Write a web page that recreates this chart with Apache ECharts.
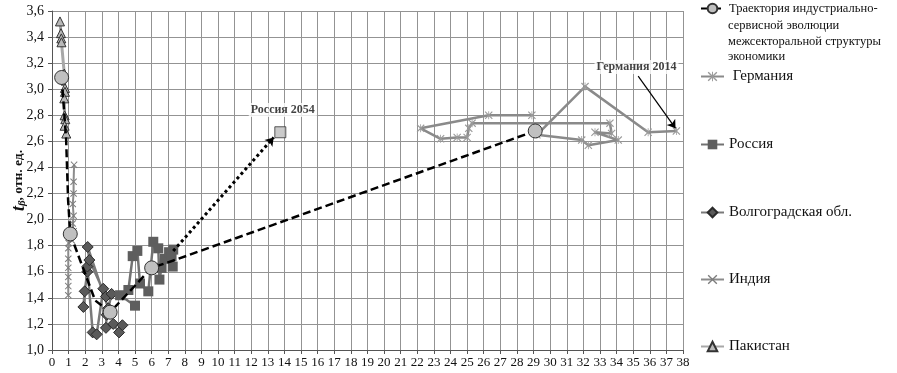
<!DOCTYPE html>
<html>
<head>
<meta charset="utf-8">
<script src="https://cdn.jsdelivr.net/npm/echarts@6/dist/echarts.min.js"></script>
<style>
  html, body { margin: 0; padding: 0; background: #fff; }
  #main { width: 897px; height: 373px; }
</style>
</head>
<body>
<div id="main"></div>
<script>
// --- data ---
const trajectoryName = 'Траектория индустриально-сервисной эволюции межсекторальной структуры экономики'
const trajectory = [[0.58, 3.09], [0.85, 2.62], [0.97, 2.15], [1.1, 1.89], [2.6, 1.38], [3.5, 1.29], [6.0, 1.63], [7.4, 1.69], [29.1, 2.68]]
const trajectoryMarked = [0, 3, 5, 6, 8]   // points drawn with a circle

const germany = [[28.9, 2.80], [26.3, 2.80], [22.2, 2.70], [23.4, 2.62], [24.4, 2.63], [25.0, 2.63], [25.1, 2.70], [25.3, 2.74],
  [33.6, 2.74], [33.7, 2.66], [32.7, 2.67], [34.1, 2.61], [32.3, 2.57], [31.9, 2.61], [29.2, 2.65], [32.1, 3.02], [35.9, 2.67], [37.6, 2.68]]
const russia = [[5.0, 1.34], [4.1, 1.42], [4.6, 1.46], [4.86, 1.72], [5.14, 1.76], [5.3, 1.51], [5.8, 1.45], [6.1, 1.83], [6.4, 1.78],
  [6.47, 1.54], [6.6, 1.63], [6.8, 1.70], [7.27, 1.64], [7.3, 1.77], [7.05, 1.75], [7.2, 1.72]]
const volgograd = [[1.89, 1.33], [1.97, 1.45], [2.13, 1.60], [2.13, 1.64], [2.45, 1.135], [2.69, 1.12], [3.09, 1.47], [3.25, 1.41],
  [2.25, 1.69], [2.15, 1.79], [3.39, 1.32], [3.59, 1.43], [3.29, 1.27], [3.25, 1.17], [3.69, 1.20], [4.04, 1.135], [4.24, 1.19]]
const india = [[0.98, 1.42], [0.98, 1.49], [0.98, 1.56], [0.98, 1.63], [0.98, 1.70], [0.98, 1.78], [1.0, 1.82], [1.2, 1.84],
  [1.3, 1.91], [1.25, 1.97], [1.3, 2.03], [1.25, 2.12], [1.3, 2.2], [1.3, 2.29], [1.33, 2.42]]
const pakistan = [[0.48, 3.52], [0.54, 3.43], [0.56, 3.39], [0.57, 3.36], [0.74, 3.12], [0.78, 3.01], [0.78, 2.98], [0.74, 2.93],
  [0.76, 2.80], [0.8, 2.77], [0.76, 2.72], [0.86, 2.66]]

const russiaForecast = [[7.3, 1.76], [13.35, 2.63]]
const russia2054 = [13.75, 2.67]
const germanyArrow = [[35.3, 3.1], [37.55, 2.7]]
const notes = [{ name: 'Россия 2054', value: [13.9, 2.84] }, { name: 'Германия 2014', value: [35.2, 3.17] }]

const yMin = 1.0, yMax = 3.6, yStep = 0.2
const xMin = 0, xMax = 38, xStep = 1

// --- drawing ---
const serif = '"Liberation Serif", "DejaVu Serif", serif'
const crossPath = 'path://M2,0L10,8L18,0L20,2L12,10L20,18L18,20L10,12L2,20L0,18L8,10L0,2Z'
const starPath = 'path://M2,0L10,8L18,0L20,2L12,10L20,18L18,20L10,12L2,20L0,18L8,10L0,2ZM9,0L11,0L11,20L9,20Z'

const chart = echarts.init(document.getElementById('main'))

const legendBox = (name, top, fontSize, formatter) => ({
  data: [name],
  left: 700,
  top: top,
  padding: 0,
  itemWidth: 23,
  itemHeight: 12,
  formatter: formatter,
  textStyle: { fontFamily: serif, fontSize: fontSize, color: '#111' }
})

const option = {
  animation: false,
  backgroundColor: '#fff',
  grid: { left: 52, right: 214, top: 11, bottom: 23, outerBoundsMode: 'none', containLabel: false },
  legend: [
    legendBox(trajectoryName, 2, 12.5, () => 'Траектория индустриально-'),
    legendBox('Германия', 69, 15, n => ' ' + n),
    legendBox('Россия', 137, 15),
    legendBox('Волгоградская обл.', 205, 15),
    legendBox('Индия', 272, 15),
    legendBox('Пакистан', 339, 15)
  ],
  graphic: [{
    type: 'text',
    left: 728,
    top: 18,
    style: {
      text: 'сервисной эволюции\nмежсекторальной структуры\nэкономики',
      font: '12.5px ' + serif,
      fill: '#111',
      lineHeight: 15.5
    }
  }],
  xAxis: {
    type: 'value',
    min: xMin, max: xMax, interval: xStep,
    axisLine: { lineStyle: { color: '#555' } },
    axisTick: { show: true, length: 4, lineStyle: { color: '#555' } },
    axisLabel: { fontFamily: serif, fontSize: 13, color: '#111', margin: 6 },
    splitLine: { lineStyle: { color: '#939393', width: 1 } }
  },
  yAxis: {
    type: 'value',
    min: yMin, max: yMax, interval: yStep,
    name: '{t|t}{b|β}{n|, отн. ед.}',
    nameLocation: 'middle',
    nameGap: 24,
    nameMoveOverlap: false,
    nameTextStyle: {
      rich: {
        t: { fontFamily: serif, fontSize: 18, fontStyle: 'italic', fontWeight: 'bold', color: '#111' },
        b: { fontFamily: serif, fontSize: 11, fontStyle: 'italic', fontWeight: 'bold', color: '#111', verticalAlign: 'bottom', padding: [6, 0, 0, 0] },
        n: { fontFamily: serif, fontSize: 13.5, fontWeight: 'bold', color: '#111' }
      }
    },
    axisLine: { show: true, lineStyle: { color: '#555' } },
    axisTick: { show: true, length: 4, lineStyle: { color: '#555' } },
    axisLabel: { fontFamily: serif, fontSize: 14, color: '#111', margin: 8,
      formatter: v => v.toFixed(1).replace('.', ',') },
    splitLine: { lineStyle: { color: '#939393', width: 1 } }
  },
  series: [
    {
      name: 'Пакистан', type: 'line', data: pakistan,
      symbol: 'triangle', symbolSize: 9,
      lineStyle: { color: '#a8a8a8', width: 3 },
      itemStyle: { color: '#b8b8b8', borderColor: '#333', borderWidth: 1 }
    },
    {
      name: 'Индия', type: 'line', data: india,
      symbol: crossPath, symbolSize: 7,
      lineStyle: { color: '#8c8c8c', width: 2 },
      itemStyle: { color: '#7c7c7c' }
    },
    {
      name: 'Волгоградская обл.', type: 'line', data: volgograd,
      symbol: 'diamond', symbolSize: 11,
      lineStyle: { color: '#7a7a7a', width: 2.5 },
      itemStyle: { color: '#5a5a5a', borderColor: '#2a2a2a', borderWidth: 1 }
    },
    {
      name: 'Россия', type: 'line', data: russia,
      symbol: 'rect', symbolSize: 10,
      lineStyle: { color: '#727272', width: 2.5 },
      itemStyle: { color: '#5e5e5e' }
    },
    {
      name: 'Германия', type: 'line', data: germany,
      symbol: starPath, symbolSize: 8,
      lineStyle: { color: '#8a8a8a', width: 2.5 },
      itemStyle: { color: '#9a9a9a' }
    },
    {
      type: 'lines', coordinateSystem: 'cartesian2d', z: 4,
      symbol: ['none', 'arrow'], symbolSize: 8,
      lineStyle: { color: '#000', width: 3, type: 'dotted', opacity: 1 },
      data: [{ coords: russiaForecast }]
    },
    {
      type: 'lines', coordinateSystem: 'cartesian2d', z: 4,
      symbol: ['none', 'arrow'], symbolSize: 8,
      lineStyle: { color: '#000', width: 1.2, opacity: 1 },
      data: [{ coords: germanyArrow }]
    },
    {
      type: 'scatter', data: [russia2054], z: 5,
      symbol: 'rect', symbolSize: 11,
      itemStyle: { color: '#bdbdbd', borderColor: '#333', borderWidth: 1 }
    },
    {
      name: trajectoryName, type: 'line', z: 6,
      data: trajectory.map((p, i) => ({ value: p, symbol: trajectoryMarked.includes(i) ? 'circle' : 'none' })),
      symbol: 'circle', symbolSize: 14, showAllSymbol: true,
      lineStyle: { color: '#000', width: 2.5, type: [8, 4] },
      itemStyle: { color: '#c0c0c0', borderColor: '#333', borderWidth: 1 }
    },
    {
      type: 'scatter', data: notes, z: 7,
      symbolSize: 1, itemStyle: { color: 'rgba(0,0,0,0)' },
      label: {
        show: true, position: 'inside', formatter: '{b}',
        fontFamily: serif, fontSize: 12, fontWeight: 'bold', color: '#111',
        backgroundColor: '#fff', padding: [1, 2]
      }
    }
  ]
}

chart.setOption(option)
</script>
</body>
</html>
